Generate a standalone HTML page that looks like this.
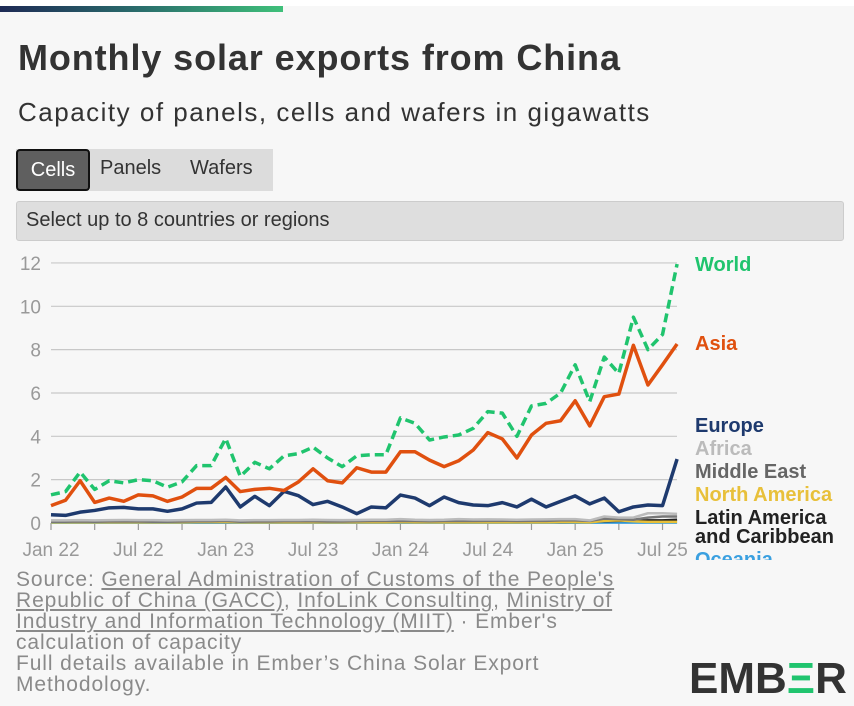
<!DOCTYPE html>
<html><head><meta charset="utf-8"><style>
body{margin:0;width:854px;height:706px;background:#f7f7f7;font-family:"Liberation Sans",sans-serif;overflow:hidden;position:relative;color:#333}
.topw{position:absolute;left:0;top:0;width:854px;height:6px;background:#fff}
.bar{position:absolute;left:0;top:6px;width:283px;height:6px;background:linear-gradient(90deg,#1e2a55,#2a6e6c 50%,#3fc07a)}
h1{position:absolute;left:18px;top:37px;margin:0;font-size:36px;font-weight:bold;color:#333;letter-spacing:0.9px}
.sub{position:absolute;left:18px;top:97px;font-size:26px;color:#333;letter-spacing:1.5px}
.tabs{position:absolute;left:16px;top:149px;width:257px;height:42px;background:#dcdcdc}
.tab{position:absolute;top:0;height:42px;line-height:38px;font-size:20px;color:#333}
.tab.on{left:0;width:70px;height:38px;background:#5f5f5f;color:#fff;border:2px solid #111;border-radius:4px;text-align:center}
.sel{position:absolute;left:16px;top:201px;width:828px;height:40px;background:#dedede;border:1px solid #ccc;border-radius:3px;font-size:20px;line-height:36px;padding-left:9px;box-sizing:border-box}
.foot{position:absolute;left:16px;top:569px;width:700px;font-size:21px;line-height:21px;color:#8a8a8a;letter-spacing:0.9px;white-space:nowrap}
.foot u{text-decoration:underline}
.logo{position:absolute;left:689px;top:654px;font-size:44px;font-weight:bold;color:#333;letter-spacing:0}
</style></head><body>
<div class="topw"></div>
<div class="bar"></div>
<h1>Monthly solar exports from China</h1>
<div class="sub">Capacity of panels, cells and wafers in gigawatts</div>
<div class="tabs">
<div class="tab on">Cells</div>
<div class="tab" style="left:84px">Panels</div>
<div class="tab" style="left:174px">Wafers</div>
</div>
<div class="sel">Select up to 8 countries or regions</div>
<svg id="chart" width="854" height="706" style="position:absolute;left:0;top:0"></svg>
<div class="foot">Source: <u>General Administration of Customs of the People's</u><br><u>Republic of China (GACC)</u>, <u>InfoLink Consulting</u>, <u>Ministry of</u><br><u>Industry and Information Technology (MIIT)</u> · Ember's<br>calculation of capacity<br>Full details available in Ember’s China Solar Export<br>Methodology.</div>
<div class="logo">EMB<span style="color:#20c46e">Ξ</span>R</div>
<script>
const yTicks=[0,2,4,6,8,10,12];
const xTickLabels=["Jan 22","Jul 22","Jan 23","Jul 23","Jan 24","Jul 24","Jan 25","Jul 25"];
const world=[1.3,1.45,2.35,1.55,1.95,1.85,2.0,1.95,1.65,1.9,2.65,2.65,3.9,2.15,2.8,2.5,3.1,3.2,3.5,3.0,2.6,3.1,3.15,3.15,4.85,4.6,3.83,3.97,4.06,4.37,5.14,5.07,4.0,5.4,5.52,6.0,7.3,5.6,7.66,6.9,9.5,8.0,8.7,11.95];
const asia=[0.8,1.05,1.95,0.95,1.15,1.0,1.3,1.25,1.0,1.2,1.6,1.6,2.1,1.45,1.55,1.6,1.5,1.9,2.5,1.95,1.85,2.55,2.35,2.35,3.29,3.29,2.9,2.6,2.87,3.37,4.17,3.88,3.0,4.06,4.6,4.72,5.64,4.48,5.83,5.95,8.2,6.37,7.3,8.26];
const europe=[0.38,0.35,0.5,0.58,0.7,0.72,0.65,0.65,0.54,0.65,0.92,0.95,1.66,0.74,1.23,0.8,1.46,1.26,0.85,1.0,0.74,0.43,0.74,0.7,1.29,1.15,0.8,1.2,0.94,0.83,0.8,0.94,0.74,1.1,0.74,1.0,1.25,0.88,1.15,0.52,0.74,0.83,0.8,2.95];
const africa=[0.12,0.12,0.13,0.12,0.13,0.14,0.13,0.13,0.12,0.13,0.14,0.14,0.15,0.12,0.13,0.13,0.14,0.14,0.15,0.14,0.13,0.14,0.15,0.15,0.18,0.15,0.14,0.15,0.18,0.16,0.17,0.16,0.15,0.16,0.17,0.18,0.18,0.12,0.3,0.25,0.25,0.45,0.45,0.42];
const middleEast=[0.06,0.06,0.07,0.06,0.07,0.07,0.07,0.06,0.06,0.07,0.08,0.08,0.1,0.06,0.07,0.07,0.08,0.08,0.08,0.07,0.07,0.08,0.09,0.09,0.1,0.09,0.08,0.09,0.1,0.09,0.1,0.1,0.09,0.1,0.1,0.12,0.12,0.1,0.2,0.18,0.15,0.25,0.3,0.3];
const northAmerica=[0.03,0.03,0.03,0.03,0.03,0.03,0.03,0.03,0.03,0.03,0.04,0.04,0.04,0.03,0.03,0.03,0.03,0.03,0.03,0.03,0.03,0.03,0.03,0.03,0.04,0.03,0.03,0.03,0.03,0.03,0.03,0.03,0.03,0.03,0.03,0.04,0.04,0.03,0.1,0.12,0.08,0.05,0.05,0.05];
const latinAmerica=[0.05,0.05,0.05,0.05,0.05,0.05,0.05,0.05,0.05,0.05,0.05,0.05,0.05,0.04,0.04,0.04,0.04,0.04,0.04,0.04,0.04,0.04,0.04,0.04,0.04,0.04,0.04,0.04,0.04,0.04,0.04,0.04,0.04,0.04,0.04,0.04,0.05,0.05,0.08,0.1,0.1,0.12,0.12,0.15];
const oceania=[0.01,0.01,0.01,0.01,0.01,0.01,0.01,0.01,0.01,0.01,0.01,0.01,0.01,0.01,0.01,0.01,0.01,0.01,0.01,0.01,0.01,0.01,0.01,0.01,0.01,0.01,0.01,0.01,0.01,0.01,0.01,0.01,0.01,0.01,0.01,0.01,0.01,0.01,0.02,0.02,0.02,0.02,0.02,0.02];
const NS="http://www.w3.org/2000/svg";
const svg=document.getElementById('chart');
const X0=51,DX=14.56,Y0=523,DY=21.67;
const xs=i=>X0+i*DX, ys=v=>Y0-v*DY;
function mk(t,a){const e=document.createElementNS(NS,t);for(const k in a)e.setAttribute(k,a[k]);svg.appendChild(e);return e;}
yTicks.forEach(v=>{
 if(v>0){const g=mk('line',{x1:51,x2:677,y1:ys(v),y2:ys(v),stroke:'#c8c8c8','stroke-width':1.2});
 
 }
 const t=mk('text',{x:41,y:ys(v)+7,'text-anchor':'end','font-size':19,fill:'#999','font-family':'Liberation Sans, sans-serif'});t.textContent=v;
 
 
});
xTickLabels.forEach((l,k)=>{for(let m=0;m<6&&k*6+m<44;m+=3){const i=k*6+m;const tk=mk('line',{x1:xs(i),x2:xs(i),y1:Y0,y2:Y0+7,stroke:'#999','stroke-width':1.2});
 
 }
 const t=mk('text',{x:xs(k*6),y:556,'text-anchor':'middle','font-size':19,fill:'#999','font-family':'Liberation Sans, sans-serif'});t.textContent=l;
 
 
});
const series=[[oceania,'#3aa0e0','oceania'],[latinAmerica,'#222','latin-america'],[northAmerica,'#e8c03a','north-america'],[middleEast,'#777','middle-east'],[africa,'#bbb','africa'],[europe,'#1e3a6e','europe'],[asia,'#e0500f','asia'],[world,'#20c46e','world']];
series.forEach(([d,c,n])=>{
 const p=mk('polyline',{points:d.map((v,i)=>xs(i)+','+ys(v)).join(' '),fill:'none',stroke:c,'stroke-width':(n=='world'||n=='asia'||n=='europe')?3.5:2.5,'stroke-linejoin':'round'});
 if(n=='world')p.setAttribute('stroke-dasharray','9,5');
 
 
});
const labels=[['World','#20c46e',271],['Asia','#e0500f',350],['Europe','#1e3a6e',432],['Africa','#bbb',455],['Middle East','#666',478],['North America','#e8c03a',501],['Latin America','#222',524],['and Caribbean','#222',543],['Oceania','#3aa0e0',566]];
labels.forEach(([t,c,y])=>{const e=mk('text',{x:695,y:y,'font-size':20,'font-weight':'bold',fill:c,'font-family':'Liberation Sans, sans-serif'});e.textContent=t;
 
 });
const cover=mk('rect',{x:680,y:560,width:174,height:20,fill:'#f7f7f7'});


</script>
</body></html>
